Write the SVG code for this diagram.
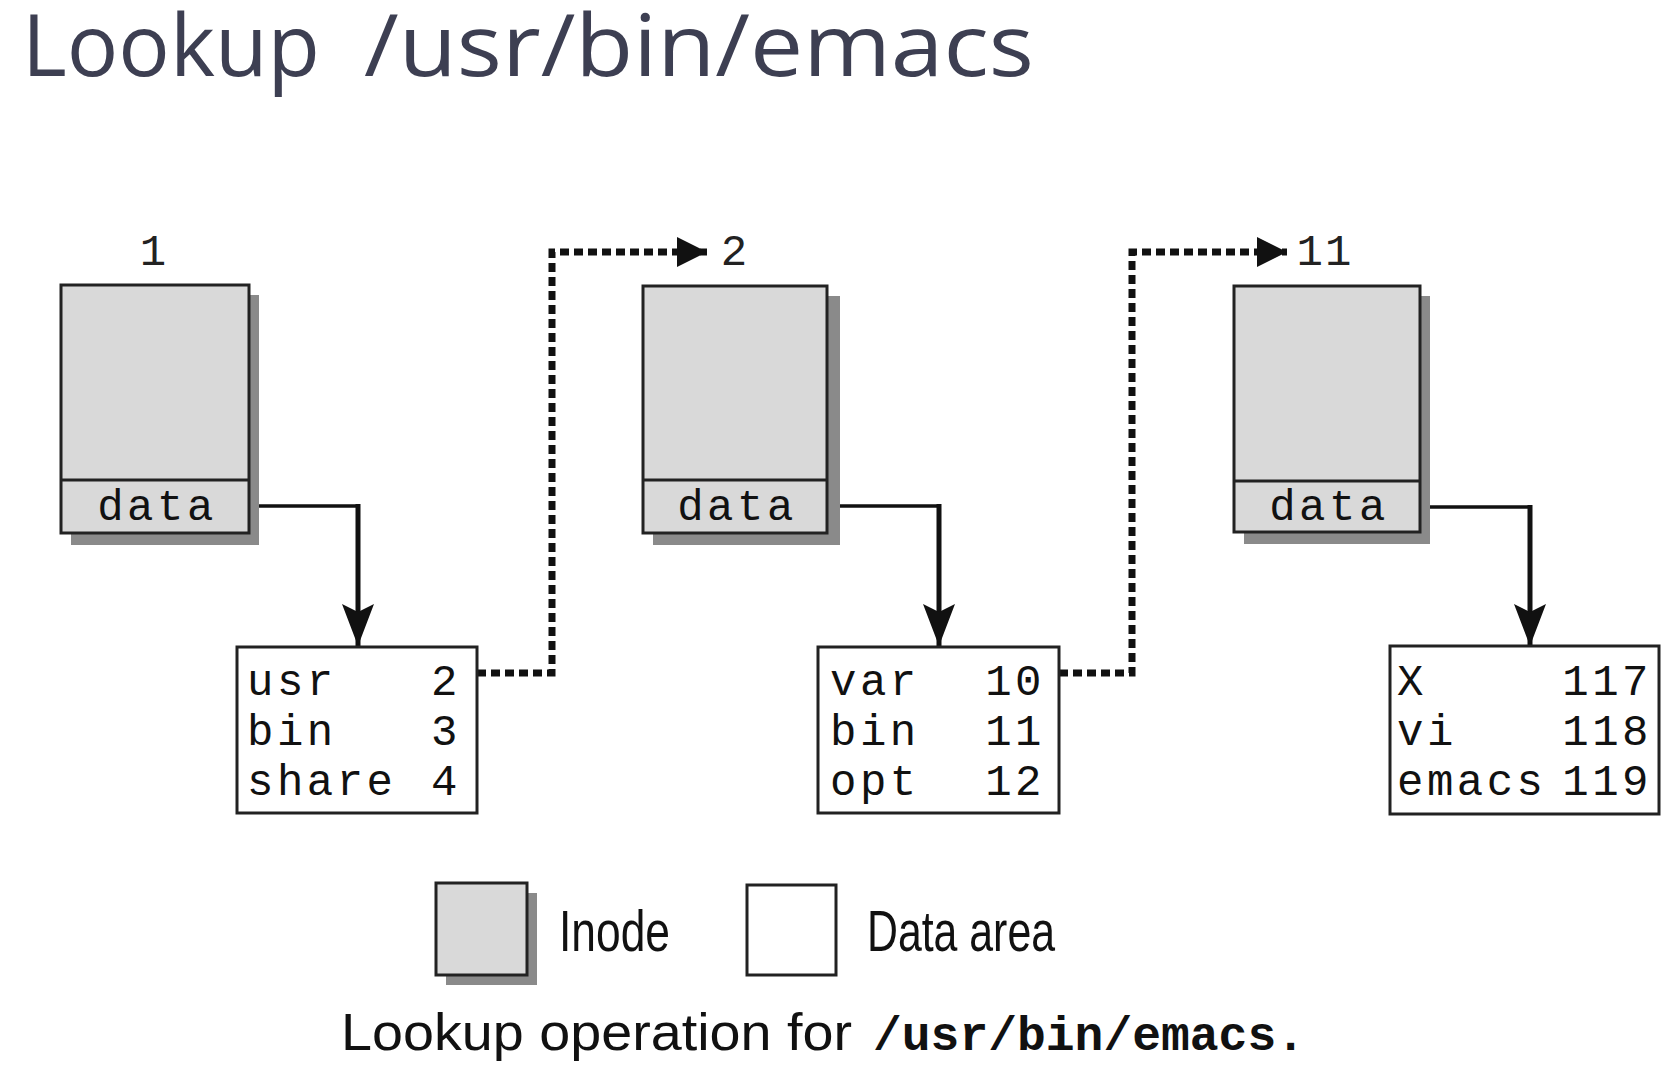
<svg xmlns="http://www.w3.org/2000/svg" width="1680" height="1066" viewBox="0 0 1680 1066">
<style>
.shadow{fill:#8a8a8a}
.inode{fill:#d9d9d9;stroke:#222;stroke-width:3}
.area{fill:#fff;stroke:#222;stroke-width:3}
.mono{font-family:"Liberation Mono","Courier New",monospace;fill:#111;font-size:44px;letter-spacing:3.5px}
.lbl{font-family:"Liberation Mono","Courier New",monospace;fill:#222;font-size:44px;letter-spacing:2px}
.hseg{fill:none;stroke:#111;stroke-width:3.5}
.vseg{fill:none;stroke:#111;stroke-width:5}
.dot{fill:none;stroke:#111;stroke-width:7;stroke-dasharray:9 5}
.cond{font-family:"Liberation Sans Narrow","Liberation Sans",Arial,sans-serif;fill:#111}
.title{font-family:"Open Sans","Noto Sans",sans-serif;font-size:86px;fill:#3d3f52}
</style>
<defs>
<marker id="ah" markerUnits="userSpaceOnUse" markerWidth="44" markerHeight="36" refX="42" refY="16" orient="auto">
<path d="M0,0 L42,16 L0,32 L8,16 Z" fill="#111"/>
</marker>
<marker id="ah2" markerUnits="userSpaceOnUse" markerWidth="32" markerHeight="32" refX="30" refY="15" orient="auto">
<path d="M0,0 L30,15 L0,30 Z" fill="#111"/>
</marker>
</defs>
<rect width="1680" height="1066" fill="#fff"/>
<text class="title" x="22" y="76" textLength="298" lengthAdjust="spacingAndGlyphs">Lookup</text>
<text class="title" x="364" y="76" textLength="670" lengthAdjust="spacingAndGlyphs">/usr/bin/emacs</text>

<g id="connectors">
<path class="hseg" d="M249,506 H358"/>
<path class="vseg" d="M358,504 V646" marker-end="url(#ah)"/>
<path class="hseg" d="M827,506 H939"/>
<path class="vseg" d="M939,504 V646" marker-end="url(#ah)"/>
<path class="hseg" d="M1420,507 H1530"/>
<path class="vseg" d="M1530,505 V646" marker-end="url(#ah)"/>
<path class="dot" d="M477,673 H552 V252 H707" marker-end="url(#ah2)"/>
<path class="dot" d="M1059,673 H1132 V252 H1287" marker-end="url(#ah2)"/>
</g>

<g id="inode1">
<text class="lbl" x="154" y="265" text-anchor="middle">1</text>
<rect class="shadow" x="71" y="295" width="188" height="250"/>
<rect class="inode" x="61" y="285" width="188" height="248"/>
<line x1="61" y1="480" x2="249" y2="480" stroke="#222" stroke-width="3"/>
<text class="mono" x="157" y="520" text-anchor="middle">data</text>
</g>

<g id="inode2">
<text class="lbl" x="735" y="265" text-anchor="middle">2</text>
<rect class="shadow" x="653" y="296" width="187" height="249"/>
<rect class="inode" x="643" y="286" width="184" height="247"/>
<line x1="643" y1="480" x2="827" y2="480" stroke="#222" stroke-width="3"/>
<text class="mono" x="737" y="520" text-anchor="middle">data</text>
</g>

<g id="inode11">
<text class="lbl" x="1325" y="265" text-anchor="middle">11</text>
<rect class="shadow" x="1244" y="296" width="186" height="248"/>
<rect class="inode" x="1234" y="286" width="186" height="246"/>
<line x1="1234" y1="481" x2="1420" y2="481" stroke="#222" stroke-width="3"/>
<text class="mono" x="1329" y="520" text-anchor="middle">data</text>
</g>

<g id="area1">
<rect class="area" x="237" y="647" width="240" height="166"/>
<text class="mono" x="247" y="695">usr</text>
<text class="mono" x="247" y="745">bin</text>
<text class="mono" x="247" y="795">share</text>
<text class="mono" x="461" y="695" text-anchor="end">2</text>
<text class="mono" x="461" y="745" text-anchor="end">3</text>
<text class="mono" x="461" y="795" text-anchor="end">4</text>
</g>

<g id="area2">
<rect class="area" x="818" y="647" width="241" height="166"/>
<text class="mono" x="830" y="695">var</text>
<text class="mono" x="830" y="745">bin</text>
<text class="mono" x="830" y="795">opt</text>
<text class="mono" x="1045" y="695" text-anchor="end">10</text>
<text class="mono" x="1045" y="745" text-anchor="end">11</text>
<text class="mono" x="1045" y="795" text-anchor="end">12</text>
</g>

<g id="area3">
<rect class="area" x="1390" y="646" width="269" height="168"/>
<text class="mono" x="1397" y="695">X</text>
<text class="mono" x="1397" y="745">vi</text>
<text class="mono" x="1397" y="795">emacs</text>
<text class="mono" x="1652" y="695" text-anchor="end">117</text>
<text class="mono" x="1652" y="745" text-anchor="end">118</text>
<text class="mono" x="1652" y="795" text-anchor="end">119</text>
</g>

<g id="legend">
<rect class="shadow" x="446" y="893" width="91" height="92"/>
<rect class="inode" x="436" y="883" width="91" height="92"/>
<text class="cond" x="559" y="951" font-size="58" textLength="111" lengthAdjust="spacingAndGlyphs">Inode</text>
<rect class="area" x="747" y="885" width="89" height="90"/>
<text class="cond" x="867" y="951" font-size="58" textLength="188" lengthAdjust="spacingAndGlyphs">Data area</text>
</g>

<g id="caption">
<text class="cond" x="341" y="1050" font-size="52" textLength="511" lengthAdjust="spacingAndGlyphs">Lookup operation for</text>
<text x="873" y="1050" font-family="'Liberation Mono','Courier New',monospace" font-weight="bold" font-size="48" fill="#111" textLength="432" lengthAdjust="spacingAndGlyphs">/usr/bin/emacs.</text>
</g>
</svg>
